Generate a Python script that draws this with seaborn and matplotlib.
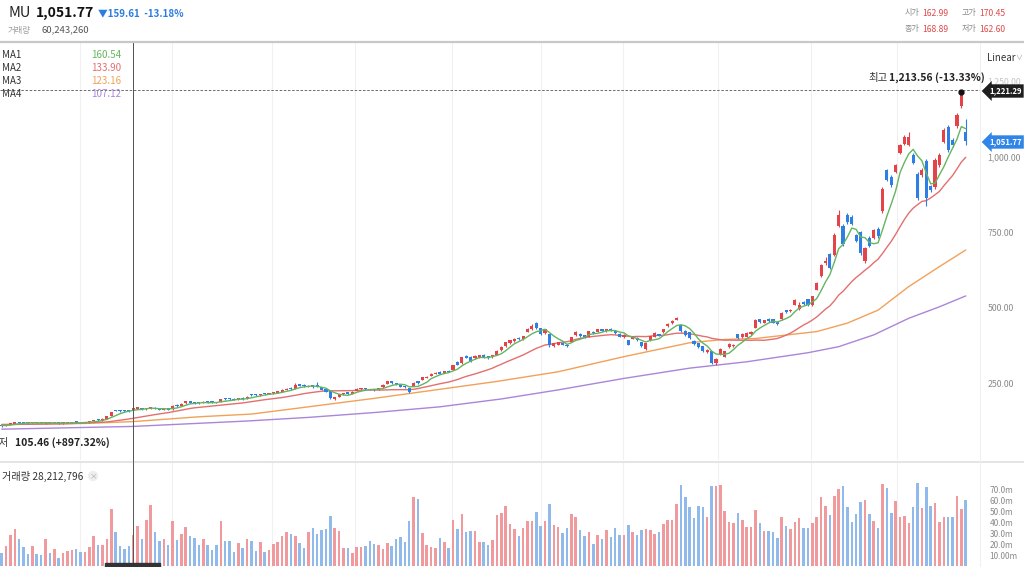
import numpy as np
import pandas as pd
import seaborn as sns
import matplotlib.pyplot as plt
from matplotlib.lines import Line2D
from matplotlib.patches import Rectangle

# ========= DATA (daily candles, oldest -> newest) =========
opens = [
    112, 108, 112, 116, 121, 120, 119, 118, 121, 120,
    117, 120, 118, 119, 117, 118, 119, 121, 121, 119,
    121, 124, 130, 127, 133, 141, 161, 160, 159, 160,
    162.99, 166, 168, 164, 166, 169, 165, 162, 165, 164,
    178, 176, 183, 190, 187, 186, 184, 189, 188, 187,
    188, 199, 200, 198, 196, 201, 199, 212, 213, 210,
    216, 214, 217, 219, 222, 228, 234, 232, 246, 244,
    238, 243, 245, 236, 230, 224, 198, 206, 213, 218,
    216, 224, 230, 233, 231, 229, 227, 236, 248, 256,
    250, 244, 240, 234, 242, 256, 262, 268, 274, 280,
    288, 284, 292, 294, 320, 316, 340, 338, 332, 334,
    344, 340, 336, 345, 360, 372, 382, 390, 400, 396,
    420, 428, 450, 432, 415, 412, 374, 378, 384, 378,
    388, 410, 414, 409, 404, 420, 420, 428, 422, 430,
    424, 414, 402, 392, 398, 400, 385, 362, 392, 404,
    412, 418, 438, 448, 460, 442, 424, 420, 390, 382,
    372, 352, 356, 316, 344, 338, 370, 372, 412, 402,
    404, 412, 434, 462, 450, 464, 462, 454, 462, 492,
    488, 510, 496, 520, 528, 510, 560, 604, 648, 678,
    676, 770, 772, 806, 800, 740, 750, 654, 732, 730,
    762, 820, 956, 934, 950, 1012, 1042, 1040, 1006, 944,
    940, 986, 902, 900, 972, 1050, 1098, 1054, 1100, 1168,
    1082,
]
highs = [
    113, 113, 118, 122, 122, 121, 120, 122, 122, 121,
    121, 121, 120, 120, 119, 120, 122, 122, 122, 122,
    125, 130, 131, 134, 141, 156, 163, 162, 161, 161,
    170.45, 171, 169, 168, 172, 170, 166, 166, 166, 178,
    180, 184, 192, 191, 189, 188, 190, 191, 190, 189,
    199, 201, 201, 200, 202, 203, 208, 214, 215, 216,
    218, 219, 221, 223, 230, 234, 236, 250, 248, 246,
    244, 244, 255, 238, 231, 225, 206, 216, 218, 220,
    224, 234, 235, 235, 232, 231, 235, 247, 258, 258,
    251, 245, 241, 235, 255, 258, 272, 274, 284, 286,
    289, 292, 294, 312, 322, 338, 342, 339, 342, 344,
    346, 341, 344, 360, 372, 388, 394, 400, 402, 407,
    433, 446, 452, 434, 430, 414, 384, 388, 386, 380,
    404, 424, 416, 411, 424, 422, 430, 430, 431, 432,
    426, 416, 412, 394, 408, 402, 387, 384, 408, 418,
    414, 430, 449, 459, 470, 444, 426, 421, 392, 384,
    374, 362, 358, 332, 366, 358, 382, 380, 414, 416,
    418, 422, 463, 464, 460, 466, 464, 456, 485, 494,
    497, 528, 520, 522, 530, 540, 585, 643, 668, 682,
    746, 822, 776, 812, 806, 744, 754, 700, 736, 760,
    766, 898, 960, 938, 976, 1042, 1070, 1080, 1012, 950,
    962, 992, 906, 996, 1012, 1094, 1104, 1060, 1144, 1213.56,
    1125,
]
lows = [
    105.46, 107, 111, 115, 118, 117, 116, 117, 118, 117,
    116, 117, 117, 116, 116, 117, 118, 119, 118, 118,
    120, 123, 126, 126, 132, 140, 157, 156, 156, 156,
    162.60, 164, 163, 162, 165, 164, 160, 161, 161, 163,
    173, 175, 182, 183, 182, 182, 183, 185, 184, 183,
    187, 195, 195, 193, 195, 196, 198, 208, 209, 209,
    212, 213, 216, 217, 221, 227, 229, 231, 240, 238,
    236, 234, 236, 227, 220, 198, 193, 205, 212, 214,
    215, 223, 229, 228, 226, 225, 226, 235, 247, 248,
    243, 236, 233, 219, 240, 248, 261, 267, 273, 279,
    280, 283, 286, 293, 310, 315, 332, 321, 330, 333,
    334, 330, 335, 344, 358, 370, 380, 388, 393, 394,
    418, 426, 428, 410, 412, 371, 370, 376, 375, 369,
    386, 408, 404, 401, 402, 414, 418, 422, 420, 424,
    414, 402, 400, 376, 396, 390, 371, 360, 390, 402,
    406, 416, 436, 446, 458, 420, 408, 398, 378, 368,
    354, 350, 314, 312, 342, 336, 368, 370, 398, 400,
    402, 410, 432, 450, 448, 454, 448, 443, 460, 484,
    486, 508, 492, 510, 507, 507, 557, 600, 640, 628,
    672, 766, 704, 778, 774, 716, 676, 648, 700, 726,
    732, 815, 918, 900, 946, 1008, 1038, 1034, 974, 858,
    934, 836, 882, 892, 966, 1044, 1016, 1032, 1094, 1160,
    1040,
]
closes = [
    108, 112, 117, 121, 119, 118, 118, 121, 119, 118,
    120, 118, 119, 117, 118, 119, 121, 120, 119, 121,
    124, 129, 127, 133, 140, 155, 159, 158, 158, 158,
    168.89, 169, 164, 167, 170, 165, 162, 165, 163, 176,
    175, 182, 190, 185, 184, 184, 188, 187, 186, 185,
    197, 197, 197, 195, 200, 198, 206, 210, 211, 214,
    214, 217, 219, 221, 228, 232, 231, 244, 242, 240,
    242, 236, 238, 229, 222, 200, 204, 214, 216, 216,
    222, 232, 233, 230, 228, 227, 233, 245, 256, 250,
    245, 238, 236, 222, 252, 250, 270, 272, 282, 284,
    282, 290, 288, 310, 312, 336, 334, 324, 340, 342,
    336, 332, 342, 358, 370, 385, 392, 398, 395, 405,
    430, 440, 432, 414, 428, 375, 382, 386, 378, 372,
    402, 420, 406, 404, 422, 416, 428, 424, 428, 426,
    416, 404, 410, 378, 406, 392, 374, 382, 406, 416,
    408, 428, 446, 456, 466, 422, 410, 400, 380, 370,
    356, 360, 318, 330, 364, 356, 380, 378, 400, 414,
    416, 420, 460, 452, 458, 456, 450, 446, 482, 486,
    494, 524, 510, 512, 510, 538, 582, 640, 656, 632,
    742, 806, 710, 782, 778, 720, 682, 696, 704, 756,
    736, 894, 924, 906, 972, 1038, 1064, 1066, 980, 864,
    956, 862, 888, 990, 1004, 1088, 1022, 1038, 1138, 1211.38,
    1051.77,
]
# volume in millions of shares
volumes = [
    12, 18, 28, 34, 24.6, 17, 11, 18, 11, 10.5,
    25, 12, 15.5, 7.6, 12, 14, 15, 15.5, 12.8, 13,
    17, 27.7, 19, 19.6, 24.6, 51.8, 30.8, 18.5, 15.8, 18.5,
    28.2, 36.8, 25, 42, 56, 30.8, 23, 25, 19, 40.8,
    23.7, 29, 36, 27, 25.5, 19, 25, 19.6, 14.6, 19,
    40.8, 22.5, 22.5, 12.5, 21, 16.5, 24.8, 22.5, 14, 21.6,
    13, 15, 20, 22, 27, 30.8, 29, 27, 21, 16.4,
    30.8, 34.4, 29, 32.6, 33.8, 46, 35, 31.7, 16.4, 16.4,
    11.6, 17, 17.3, 18, 22.5, 19.8, 19, 15.8, 20.7, 18,
    24.6, 26.5, 21.6, 41, 63, 61, 30, 19, 17.3, 16.4,
    25.5, 21.6, 16.4, 41.7, 33.5, 47.5, 31.4, 32, 32, 21.6,
    22, 19, 24, 46.6, 48, 55, 38, 33.8, 27.4, 35,
    41, 41, 49.6, 36.8, 41, 56.6, 37.4, 35.6, 30, 34.4,
    47.8, 44.5, 32.6, 27, 30.8, 20.4, 28.6, 24.4, 32.6, 26.2,
    34.4, 28.3, 28.3, 37.7, 31.3, 28.6, 33, 34, 32.6, 29.5,
    30.8, 38, 41.7, 41.7, 57, 73.7, 62.7, 53.6, 43.8, 54.5,
    53.6, 44.5, 73, 73, 73.7, 50.5, 40, 39.5, 48.4, 42.3,
    36, 36, 51, 39, 32, 32, 30.8, 26, 44.5, 36.8,
    33.8, 40, 44, 35, 35, 39, 44.7, 63, 54.5, 46.3,
    63.6, 70, 72.8, 53.6, 40.5, 47.8, 58.7, 60.5, 47.5, 41.4,
    35, 75, 71, 48.4, 59, 45, 46, 39, 53.6, 75.8,
    53, 72, 54.5, 58, 40, 44.5, 45, 45, 63.6, 52,
    60.24,
]
# closes before the first visible candle (feed the 5/20 day averages)
prior_closes = [114, 116, 113, 115, 117, 118, 116, 114, 112, 113,
                115, 117, 116, 114, 112, 110, 109, 111, 112]
# long averages at a few candles
ma3_idx = [0, 19, 30, 45, 57, 70, 85, 100, 113, 127, 142, 157, 165, 172, 186, 193, 200, 207, 214, 220]
ma3_val = [113, 117, 123.16, 139, 148, 172, 200, 230, 256, 288, 338, 384, 395, 398, 421, 449, 492, 570, 636, 691]
ma4_idx = [0, 30, 56, 70, 85, 100, 114, 127, 142, 157, 170, 184, 191, 199, 207, 214, 220]
ma4_val = [98, 107.12, 125, 137, 153, 172, 198, 228, 266, 300, 321, 351, 371, 410, 465, 503, 539]
month_lines = [17.9, 38.9, 61.7, 80.6, 102.8, 123, 141.8, 163.5, 184.7, 204.3]

ma_names = ["MA1", "MA2", "MA3", "MA4"]
ma_values = ["160.54", "133.90", "123.16", "107.12"]
price_ticks = [250, 500, 750, 1000, 1250]
vol_ticks = [10, 20, 30, 40, 50, 60, 70]
vol_labels = ["10.00m", "20.0m", "30.0m", "40.0m", "50.0m", "60.0m", "70.0m"]
cross_i = 30

# ========= STYLE =========
sns.set_style("white")
plt.rcParams["font.family"] = ["Noto Sans CJK KR", "DejaVu Sans"]

UP, DOWN = "#e5434a", "#2f7ee3"
VUP, VDOWN = "#f09a9e", "#8fbaeb"
MA_COLORS = ["#63b660", "#e36f6f", "#f2a158", "#aa86d8"]

W, H = 1024, 567
fig = plt.figure(figsize=(W / 100, H / 100), dpi=100)


def fx(x):
    return x / W


def fy(y):
    return 1 - y / H


N = len(closes)
df = pd.DataFrame({"idx": np.arange(N), "open": opens, "high": highs,
                   "low": lows, "close": closes, "vol": volumes})
df["dir"] = np.where(df["close"] >= df["open"], "up", "down")
allc = pd.Series(prior_closes + closes)
df["ma1"] = allc.rolling(5).mean().iloc[len(prior_closes):].values
df["ma2"] = allc.rolling(20).mean().iloc[len(prior_closes):].values

STEP, X0 = 4.382, 1.7
xlim = (-X0 / STEP, (980 - X0) / STEP)

ax = fig.add_axes([0, fy(460), 980 / W, (460 - 43) / H])
axv = fig.add_axes([0, 0, 980 / W, (567 - 462) / H])

# ========= PRICE PANEL =========
for g in month_lines:
    ax.axvline(g, color="#f0f0f0", lw=0.8, zorder=0)
    axv.axvline(g, color="#f0f0f0", lw=0.8, zorder=0)

sns.lineplot(x=ma4_idx, y=ma4_val, color=MA_COLORS[3], lw=1.0, ax=ax, zorder=2)
sns.lineplot(x=ma3_idx, y=ma3_val, color=MA_COLORS[2], lw=1.0, ax=ax, zorder=2)
sns.lineplot(data=df, x="idx", y="ma2", color=MA_COLORS[1], lw=1.0, ax=ax, zorder=2)
sns.lineplot(data=df, x="idx", y="ma1", color=MA_COLORS[0], lw=1.0, ax=ax, zorder=5)

col = df["dir"].map({"up": UP, "down": DOWN})
ax.vlines(df["idx"], df["low"], df["high"], colors=col, lw=0.8, zorder=3)
body = (df["close"] - df["open"]).abs().clip(lower=4)
ax.bar(df["idx"], body, bottom=df[["open", "close"]].min(axis=1),
       width=0.72, color=col, lw=0, zorder=4)

ax.set_xlim(xlim)
ax.set_ylim(-4, 1376)
ax.set_xlabel("")
ax.set_ylabel("")
ax.set_xticks([])
ax.yaxis.tick_right()
ax.set_yticks(price_ticks)
ax.set_yticklabels([f"{v:,.2f}" for v in price_ticks])
ax.tick_params(axis="y", length=0, pad=5.5, labelsize=6.3, labelcolor="#8a8a8a")
ax.get_yticklabels()[-1].set_alpha(0.5)
for s in ax.spines.values():
    s.set_visible(False)

# crosshair + high marker
ax.axhline(1221.29, color="#555555", lw=0.6, ls=(0, (3, 2)), zorder=6)
ax.axvline(cross_i, color="#555555", lw=0.7, zorder=6)
ax.plot([219], [1213.56], "o", color="#111111", ms=3.5, zorder=7)

# ========= VOLUME PANEL =========
vcol = df["dir"].map({"up": VUP, "down": VDOWN})
axv.bar(df["idx"], df["vol"], width=0.58, color=vcol, lw=0, zorder=2)
axv.axvline(cross_i, color="#555555", lw=0.7, zorder=6)
axv.set_xlim(xlim)
axv.set_ylim(-0.9, 95)
axv.set_xticks([])
axv.yaxis.tick_right()
axv.set_yticks(vol_ticks)
axv.set_yticklabels(vol_labels)
axv.tick_params(axis="y", length=0, pad=7, labelsize=6, labelcolor="#8a8a8a")
for s in axv.spines.values():
    s.set_visible(False)

# ========= FRAME LINES =========
fig.add_artist(Line2D([0, 1], [fy(42), fy(42)], color="#c8c8c8", lw=1.6))
fig.add_artist(Line2D([0, 1], [fy(461.5), fy(461.5)], color="#e2e2e2", lw=1.3))
fig.add_artist(Line2D([fx(980), fx(980)], [fy(43), 0], color="#f0f0f0", lw=0.8))
fig.add_artist(Line2D([fx(133.2), fx(133.2)], [fy(43), fy(462)], color="#555555", lw=0.7))
fig.add_artist(Rectangle((fx(105), 0), fx(55), 4 / H, color="#333333"))

# ========= HEADER =========
fig.text(fx(8), fy(13), "MU", fontsize=10.5, color="#222222", va="center")
fig.text(fx(36), fy(13), "1,051.77", fontsize=10, fontweight="bold", color="#111111", va="center")
fig.text(fx(98), fy(13.5), "▼159.61  -13.18%", fontsize=7, fontweight="bold", color="#2a7de1", va="center")
fig.text(fx(8), fy(30), "거래량", fontsize=6, color="#9a9a9a", va="center")
fig.text(fx(42), fy(30), "60,243,260", fontsize=6.8, color="#555555", va="center")

for lab, val, x, y in [("시가", "162.99", 905, 13), ("고가", "170.45", 962, 13),
                       ("종가", "168.89", 905, 29), ("저가", "162.60", 962, 29)]:
    fig.text(fx(x), fy(y), lab, fontsize=5.8, color="#8a8a8a", va="center")
    fig.text(fx(x + 17), fy(y), val, fontsize=6.2, color="#e04a4a", va="center")

fig.text(fx(987), fy(58), "Linear", fontsize=7, color="#333333", va="center")
fig.text(fx(1015), fy(58), "∨", fontsize=5, color="#999999", va="center")

# MA legend
for k in range(4):
    y = 55 + 13 * k
    fig.text(fx(2), fy(y), ma_names[k], fontsize=7, color="#333333", va="center")
    fig.text(fx(121), fy(y), ma_values[k], fontsize=7, color=MA_COLORS[k], va="center", ha="right")

# high / low annotations
fig.text(fx(868), fy(78), "최고", fontsize=7.5, color="#333333", va="center")
fig.text(fx(889), fy(78), "1,213.56 (-13.33%)", fontsize=7.5, fontweight="bold", color="#222222", va="center")
fig.text(fx(-11), fy(443), "최저", fontsize=7.5, color="#333333", va="center")
fig.text(fx(15), fy(443), "105.46 (+897.32%)", fontsize=7.5, fontweight="bold", color="#222222", va="center")

# price tags on the axis
fig.text(fx(989), fy(91), "1,221.29", fontsize=5.6, fontweight="bold", color="white", va="center",
         bbox=dict(boxstyle="larrow,pad=0.28", fc="#1f1f1f", ec="none"), zorder=10)
fig.text(fx(989), fy(142), "1,051.77", fontsize=5.6, fontweight="bold", color="white", va="center",
         bbox=dict(boxstyle="larrow,pad=0.28", fc="#2f86e8", ec="none"), zorder=10)

# volume label
fig.text(fx(2), fy(476), "거래량 28,212,796", fontsize=7.3, color="#333333", va="center")
fig.text(fx(93), fy(476), "×", fontsize=5.5, color="#aaaaaa", va="center", ha="center",
         bbox=dict(boxstyle="circle,pad=0.15", fc="#eeeeee", ec="none"))

fig.savefig("out.png", dpi=100)
